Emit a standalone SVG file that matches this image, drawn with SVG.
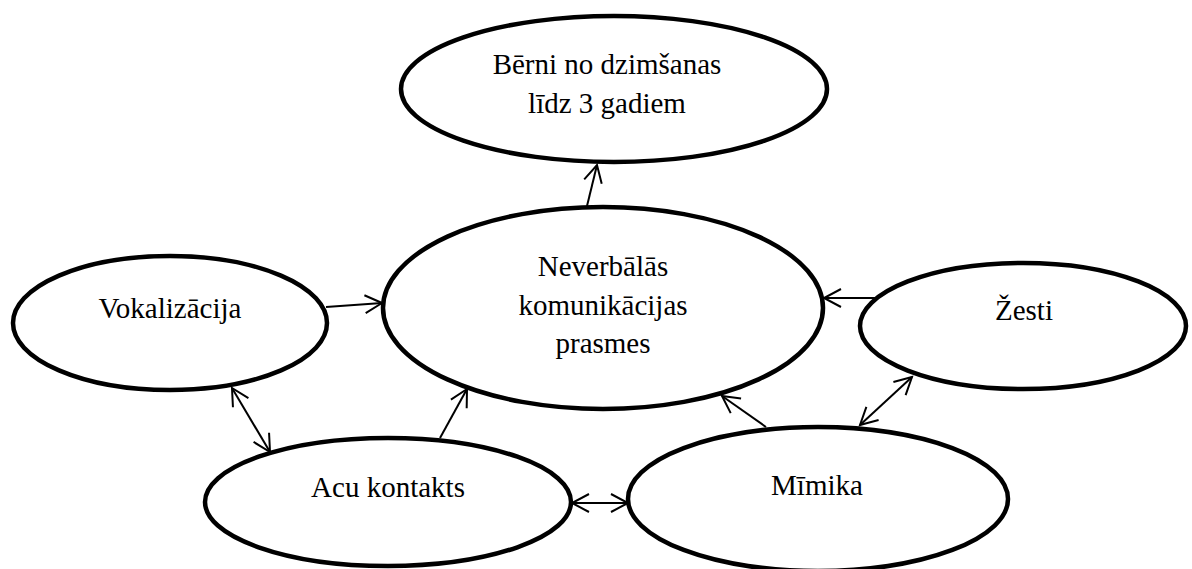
<svg xmlns="http://www.w3.org/2000/svg" width="1192" height="569" viewBox="0 0 1192 569">
<style>
.node ellipse{fill:#fff;stroke:#000;stroke-width:4.5}
.node text{font-family:"Liberation Serif","Times New Roman",serif;font-size:29px;fill:#000;text-anchor:middle}
.conn line{stroke:#000;stroke-width:2;fill:none}
</style>
<defs>
<marker id="ah" markerUnits="userSpaceOnUse" markerWidth="24" markerHeight="24" viewBox="-20 -12 24 24" refX="0" refY="0" orient="auto-start-reverse">
<path d="M-17,-9 L0,0 L-17,9" fill="none" stroke="#000" stroke-width="2"/>
</marker>
</defs>
<rect width="1192" height="569" fill="#fff"/>
<g id="connectors" class="conn">
<line x1="587" y1="206" x2="597" y2="165" marker-end="url(#ah)"/>
<line x1="326" y1="307" x2="382" y2="303" marker-end="url(#ah)"/>
<line x1="876" y1="298" x2="824" y2="298" marker-end="url(#ah)"/>
<line x1="440" y1="438" x2="467" y2="389" marker-end="url(#ah)"/>
<line x1="766" y1="427" x2="722" y2="396" marker-end="url(#ah)"/>
<line x1="232" y1="388" x2="270" y2="452" marker-start="url(#ah)" marker-end="url(#ah)"/>
<line x1="572" y1="503" x2="628" y2="503" marker-start="url(#ah)" marker-end="url(#ah)"/>
<line x1="860" y1="425" x2="912" y2="377" marker-start="url(#ah)" marker-end="url(#ah)"/>
</g>
<g id="node-berni" class="node">
<ellipse cx="614" cy="89" rx="213" ry="73"/>
<text x="607" y="74">Bērni no dzimšanas</text>
<text x="607" y="113">līdz 3 gadiem</text>
</g>
<g id="node-neverbalas" class="node">
<ellipse cx="603" cy="308" rx="220" ry="101"/>
<text x="603" y="276">Neverbālās</text>
<text x="603" y="315">komunikācijas</text>
<text x="603" y="353">prasmes</text>
</g>
<g id="node-vokalizacija" class="node">
<ellipse cx="170" cy="323" rx="157" ry="67"/>
<text x="170" y="318">Vokalizācija</text>
</g>
<g id="node-zesti" class="node">
<ellipse cx="1023" cy="326" rx="163" ry="63"/>
<text x="1024" y="320">Žesti</text>
</g>
<g id="node-acu" class="node">
<ellipse cx="388" cy="502" rx="183" ry="64"/>
<text x="388" y="497">Acu kontakts</text>
</g>
<g id="node-mimika" class="node">
<ellipse cx="818" cy="499" rx="190" ry="72"/>
<text x="817" y="495">Mīmika</text>
</g>
</svg>
